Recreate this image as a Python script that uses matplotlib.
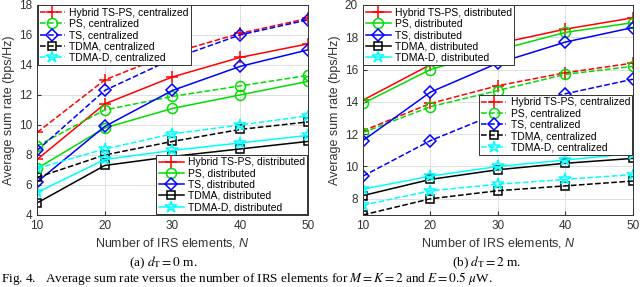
import matplotlib
matplotlib.use("Agg")
import matplotlib.pyplot as plt

N = [10, 20, 30, 40, 50]

# (a) d_T = 0 m
a_hyb_cen = [9.5, 13.0, 14.8, 16.1, 17.1]
a_ps_cen = [8.6, 11.0, 11.9, 12.6, 13.3]
a_ts_cen = [8.3, 12.3, 14.4, 16.0, 17.0]
a_tdma_cen = [6.5, 8.0, 8.9, 9.7, 10.2]
a_tdmad_cen = [7.1, 8.4, 9.4, 10.0, 10.6]
a_hyb_dis = [7.7, 11.4, 13.2, 14.5, 15.4]
a_ps_dis = [7.1, 9.8, 11.1, 12.0, 12.9]
a_ts_dis = [6.2, 9.9, 12.3, 13.9, 15.0]
a_tdma_dis = [4.8, 7.3, 7.9, 8.4, 8.9]
a_tdmad_dis = [5.5, 7.7, 8.3, 8.8, 9.3]

# (b) d_T = 2 m
b_hyb_dis = [14.1, 16.3, 17.6, 18.5, 19.2]
b_ps_dis = [13.9, 16.0, 17.2, 18.3, 18.9]
b_ts_dis = [11.6, 14.6, 16.4, 17.7, 18.6]
b_tdma_dis = [8.2, 9.2, 9.8, 10.2, 10.5]
b_tdmad_dis = [8.6, 9.4, 10.0, 10.4, 10.8]
b_hyb_cen = [12.2, 13.9, 15.0, 15.8, 16.4]
b_ps_cen = [12.1, 13.7, 14.7, 15.7, 16.2]
b_ts_cen = [9.4, 11.6, 13.3, 14.5, 15.4]
b_tdma_cen = [7.0, 8.0, 8.5, 8.8, 9.1]
b_tdmad_cen = [7.6, 8.5, 8.9, 9.2, 9.5]

names = ["Hybrid TS-PS", "PS", "TS", "TDMA", "TDMA-D"]
colors = ["#ff0000", "#00dd00", "#0000ff", "#000000", "#00ffff"]
markers = ["+", "o", "D", "s", "*"]
msizes = [10, 8, 7, 6, 10]

plt.rcParams['font.family'] = ['Liberation Sans', 'DejaVu Sans']
plt.rcParams['mathtext.fontset'] = 'custom'
plt.rcParams['mathtext.it'] = 'Liberation Sans:italic'
plt.rcParams['mathtext.rm'] = 'Liberation Sans'
fig = plt.figure(figsize=(6.4, 2.87), dpi=100)

def draw(ax, cen, dis, cen_first, ylim, yticks, cen_loc, dis_loc):
    hc, hd = [], []
    for i in range(5):
        kw = dict(color=colors[i], marker=markers[i], markersize=msizes[i] * 0.9,
                  markerfacecolor='none', markeredgewidth=1.1, linewidth=1.1)
        l1, = ax.plot(N, cen[i], linestyle='--', label=names[i] + ", centralized", **kw)
        l2, = ax.plot(N, dis[i], linestyle='-', label=names[i] + ", distributed", **kw)
        hc.append(l1); hd.append(l2)
    ax.set_xlim(10, 50)
    ax.set_ylim(*ylim)
    ax.set_xticks(N)
    ax.set_yticks(yticks)
    ax.grid(True, color='#e0e0e0', linewidth=0.7)
    ax.tick_params(labelsize=8.5, direction='in', length=3, colors='#333333')
    for s in ax.spines.values():
        s.set_color('#333333'); s.set_linewidth(0.7)
    ax.set_xlabel("Number of IRS elements, $N$", fontsize=9, labelpad=3, color='#333333')
    ax.set_ylabel("Average sum rate (bps/Hz)", fontsize=9, labelpad=3, color='#333333')
    lkw = dict(fontsize=7.5, handlelength=2.4, borderpad=0.22, labelspacing=0.12,
               handletextpad=0.4, fancybox=False, edgecolor='#333333', framealpha=1,
               borderaxespad=0.05)
    first = hc if cen_first else hd
    second = hd if cen_first else hc
    leg1 = ax.legend(handles=first, loc=cen_loc if cen_first else dis_loc, **lkw)
    leg1.get_frame().set_linewidth(0.7)
    ax.add_artist(leg1)
    leg2 = ax.legend(handles=second, loc=dis_loc if cen_first else cen_loc, **lkw)
    leg2.get_frame().set_linewidth(0.7)

ax1 = fig.add_axes([0.058, 0.251, 0.423, 0.732])
draw(ax1,
     [a_hyb_cen, a_ps_cen, a_ts_cen, a_tdma_cen, a_tdmad_cen],
     [a_hyb_dis, a_ps_dis, a_ts_dis, a_tdma_dis, a_tdmad_dis],
     True, (4, 18), [4, 6, 8, 10, 12, 14, 16, 18], 'upper left', 'lower right')

ax2 = fig.add_axes([0.567, 0.251, 0.422, 0.732])
draw(ax2,
     [b_hyb_cen, b_ps_cen, b_ts_cen, b_tdma_cen, b_tdmad_cen],
     [b_hyb_dis, b_ps_dis, b_ts_dis, b_tdma_dis, b_tdmad_dis],
     False, (7, 20), [8, 10, 12, 14, 16, 18, 20], 'lower right', 'upper left')
ax2.get_legend().set_bbox_to_anchor((1.0, 0.285), transform=ax2.transAxes)

cap = dict(family='Liberation Serif', fontsize=9.5, math_fontfamily='stix')
fig.text(0.255, 0.084, r"(a) $d_\mathrm{T}=0$ m.", ha='center', va='center', **cap)
fig.text(0.760, 0.084, r"(b) $d_\mathrm{T}=2$ m.", ha='center', va='center', **cap)
fig.text(0.002, 0.0, r"Fig. 4.   Average sum rate versus the number of IRS elements for $M=K=2$ and $E=0.5\ \mu$W.",
         ha='left', va='bottom', **cap)

fig.savefig("out.png", dpi=100)
